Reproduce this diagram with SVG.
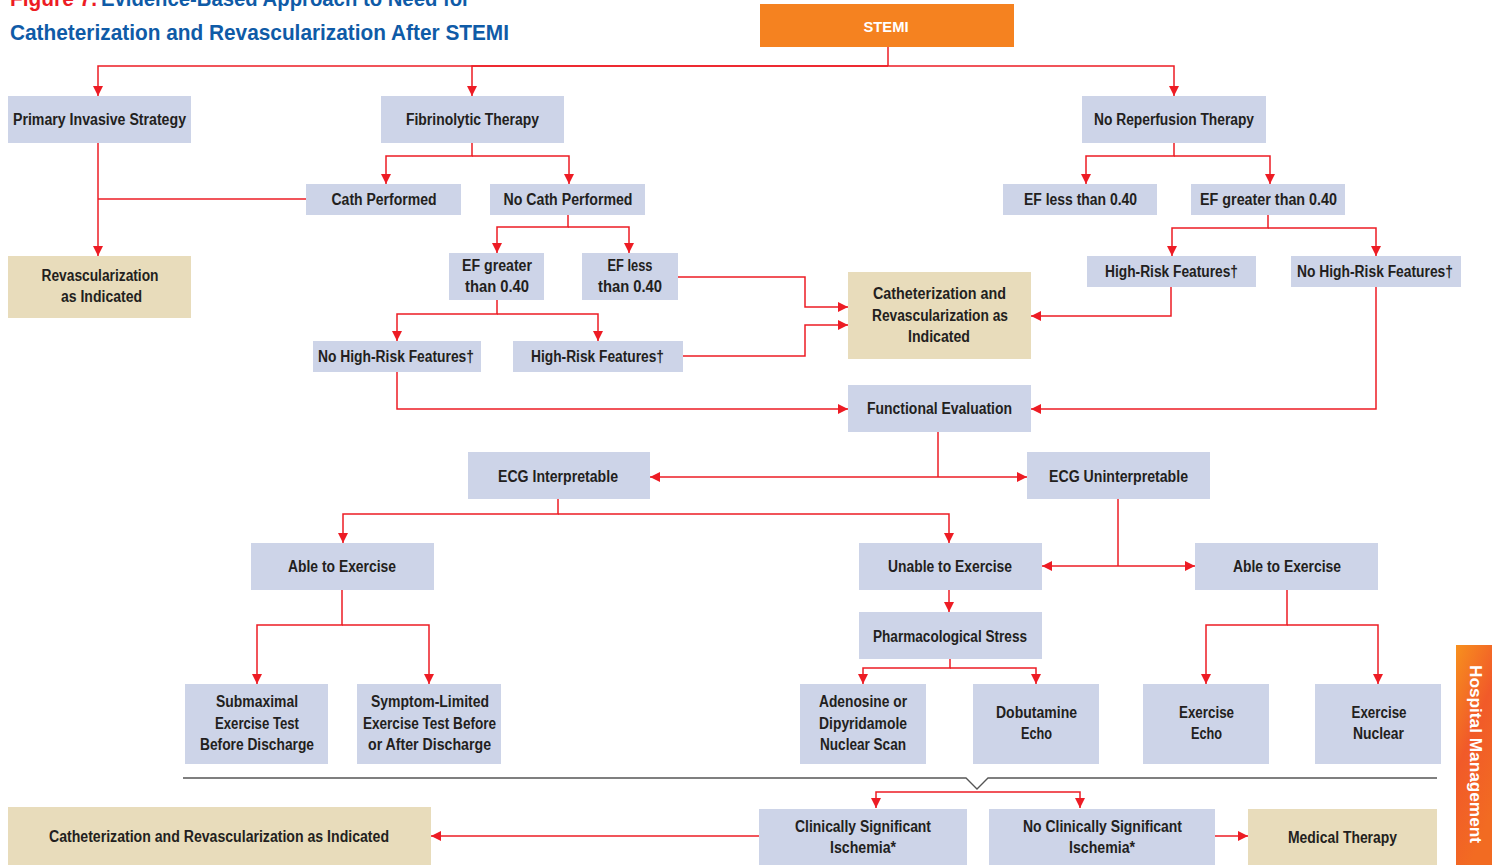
<svg xmlns="http://www.w3.org/2000/svg" width="1492" height="865" viewBox="0 0 1492 865">
  <defs>
    <marker id="arrow" viewBox="0 0 10 10" markerUnits="userSpaceOnUse" markerWidth="10" markerHeight="11" refX="10" refY="5" orient="auto-start-reverse">
      <path d="M0,0 L10,5 L0,10 z" fill="#ed1c24"/>
    </marker>
    <linearGradient id="tabGrad" x1="0" y1="0" x2="0.4" y2="1">
      <stop offset="0" stop-color="#f7901e"/>
      <stop offset="0.5" stop-color="#f15a29"/>
      <stop offset="1" stop-color="#f26b22"/>
    </linearGradient>
    <style>
      .box { fill: #cdd4e8; }
      .tan { fill: #e8dcbb; }
      .lbl { font-family: "Liberation Sans", Arial, sans-serif; font-weight: bold; font-size: 16px; fill: #231f20; text-anchor: middle; }
      .title { font-family: "Liberation Sans", Arial, sans-serif; font-weight: bold; font-size: 21.5px; fill: #0f5ba7; }
      .conn path { fill: none; stroke: #ed1c24; stroke-width: 1.5; }
      .conn path.arr { marker-end: url(#arrow); }
    </style>
  </defs>

  <rect width="1492" height="865" fill="#ffffff"/>

  <!-- heading (first line runs off the top edge of the page) -->
  <g id="heading">
    <text class="title" x="10" y="6" style="fill:#ed1c24" textLength="87" lengthAdjust="spacingAndGlyphs">Figure 7.</text>
    <text class="title" x="101" y="6" textLength="369" lengthAdjust="spacingAndGlyphs">Evidence-Based Approach to Need for</text>
    <text class="title" x="10" y="40" textLength="499" lengthAdjust="spacingAndGlyphs">Catheterization and Revascularization After STEMI</text>
  </g>

  <!-- connectors -->
  <g id="connectors" class="conn">
    <path d="M888 47 V66"/>
    <path class="arr" d="M888 66 H98 V96"/>
    <path class="arr" d="M888 66 H472 V96"/>
    <path class="arr" d="M888 66 H1174 V96"/>

    <path class="arr" d="M472 143 V156 H386 V184"/>
    <path class="arr" d="M472 156 H569 V184"/>

    <path class="arr" d="M98 143 V256"/>
    <path d="M98 199 H306"/>

    <path class="arr" d="M568 215 V227 H497 V253"/>
    <path class="arr" d="M568 227 H629 V253"/>

    <path class="arr" d="M497 300 V314 H397 V341"/>
    <path class="arr" d="M497 314 H598 V341"/>

    <path class="arr" d="M678 277 H805 V307 H848"/>
    <path class="arr" d="M683 356 H805 V325 H848"/>
    <path class="arr" d="M397 372 V409 H848"/>

    <path class="arr" d="M1174 143 V156 H1086 V184"/>
    <path class="arr" d="M1174 156 H1270 V184"/>

    <path class="arr" d="M1268 215 V228 H1172 V256"/>
    <path class="arr" d="M1268 228 H1376 V256"/>

    <path class="arr" d="M1171 287 V316 H1031"/>
    <path class="arr" d="M1376 287 V409 H1031"/>

    <path d="M938 432 V477"/>
    <path class="arr" d="M938 477 H650"/>
    <path class="arr" d="M938 477 H1027"/>

    <path class="arr" d="M558 499 V514 H343 V543"/>
    <path class="arr" d="M558 514 H949 V543"/>

    <path d="M1118 499 V566"/>
    <path class="arr" d="M1118 566 H1042"/>
    <path class="arr" d="M1118 566 H1195"/>

    <path class="arr" d="M949 590 V612"/>

    <path class="arr" d="M342 590 V625 H257 V684"/>
    <path class="arr" d="M342 625 H429 V684"/>

    <path class="arr" d="M950 659 V668 H863 V684"/>
    <path class="arr" d="M950 668 H1036 V684"/>

    <path class="arr" d="M1287 590 V625 H1206 V684"/>
    <path class="arr" d="M1287 625 H1378 V684"/>

    <path class="arr" d="M977 792 H876 V808"/>
    <path class="arr" d="M977 792 H1080 V808"/>

    <path class="arr" d="M759 836 H431"/>
    <path class="arr" d="M1215 836 H1248"/>
  </g>

  <!-- divider between hospital tests and outcomes -->
  <path id="divider" d="M183 778 H966 L977 789 L988 778 H1437" fill="none" stroke="#555555" stroke-width="1.3"/>

  <!-- nodes -->
  <g id="stemi">
    <rect x="760" y="4" width="254" height="43" fill="#f58220"/>
    <text class="lbl" x="886" y="32" style="fill:#ffffff;font-size:14.5px" textLength="45" lengthAdjust="spacingAndGlyphs">STEMI</text>
  </g>

  <g id="primary-invasive">
    <rect class="box" x="8" y="96" width="183" height="47"/>
    <text class="lbl" x="99.5" y="125" textLength="173" lengthAdjust="spacingAndGlyphs">Primary Invasive Strategy</text>
  </g>
  <g id="fibrinolytic">
    <rect class="box" x="381" y="96" width="183" height="47"/>
    <text class="lbl" x="472.5" y="125" textLength="133" lengthAdjust="spacingAndGlyphs">Fibrinolytic Therapy</text>
  </g>
  <g id="no-reperfusion">
    <rect class="box" x="1082" y="96" width="184" height="47"/>
    <text class="lbl" x="1174" y="125" textLength="160" lengthAdjust="spacingAndGlyphs">No Reperfusion Therapy</text>
  </g>

  <g id="cath-performed">
    <rect class="box" x="306" y="184" width="155" height="31"/>
    <text class="lbl" x="384" y="205" textLength="105" lengthAdjust="spacingAndGlyphs">Cath Performed</text>
  </g>
  <g id="no-cath-performed">
    <rect class="box" x="490" y="184" width="155" height="31"/>
    <text class="lbl" x="568" y="205" textLength="129" lengthAdjust="spacingAndGlyphs">No Cath Performed</text>
  </g>
  <g id="ef-less-right">
    <rect class="box" x="1003" y="184" width="154" height="31"/>
    <text class="lbl" x="1080.5" y="205" textLength="113" lengthAdjust="spacingAndGlyphs">EF less than 0.40</text>
  </g>
  <g id="ef-greater-right">
    <rect class="box" x="1191" y="184" width="154" height="31"/>
    <text class="lbl" x="1268.5" y="205" textLength="137" lengthAdjust="spacingAndGlyphs">EF greater than 0.40</text>
  </g>

  <g id="revasc-indicated">
    <rect class="tan" x="8" y="256" width="183" height="62"/>
    <text class="lbl" x="100" y="281" textLength="117" lengthAdjust="spacingAndGlyphs">Revascularization</text>
    <text class="lbl" x="101.5" y="302" textLength="81" lengthAdjust="spacingAndGlyphs">as Indicated</text>
  </g>

  <g id="ef-greater-left">
    <rect class="box" x="449" y="253" width="95" height="47"/>
    <text class="lbl" x="497" y="271" textLength="70" lengthAdjust="spacingAndGlyphs">EF greater</text>
    <text class="lbl" x="497" y="292" textLength="64" lengthAdjust="spacingAndGlyphs">than 0.40</text>
  </g>
  <g id="ef-less-left">
    <rect class="box" x="582" y="253" width="96" height="47"/>
    <text class="lbl" x="630" y="271" textLength="45" lengthAdjust="spacingAndGlyphs">EF less</text>
    <text class="lbl" x="630" y="292" textLength="64" lengthAdjust="spacingAndGlyphs">than 0.40</text>
  </g>

  <g id="high-risk-right">
    <rect class="box" x="1087" y="256" width="169" height="31"/>
    <text class="lbl" x="1171.5" y="277" textLength="133" lengthAdjust="spacingAndGlyphs">High-Risk Features†</text>
  </g>
  <g id="no-high-risk-right">
    <rect class="box" x="1291" y="256" width="170" height="31"/>
    <text class="lbl" x="1375" y="277" textLength="156" lengthAdjust="spacingAndGlyphs">No High-Risk Features†</text>
  </g>

  <g id="cath-revasc-indicated">
    <rect class="tan" x="848" y="272" width="183" height="87"/>
    <text class="lbl" x="939.5" y="299" textLength="133" lengthAdjust="spacingAndGlyphs">Catheterization and</text>
    <text class="lbl" x="940" y="321" textLength="136" lengthAdjust="spacingAndGlyphs">Revascularization as</text>
    <text class="lbl" x="939" y="342" textLength="62" lengthAdjust="spacingAndGlyphs">Indicated</text>
  </g>

  <g id="no-high-risk-left">
    <rect class="box" x="313" y="341" width="168" height="31"/>
    <text class="lbl" x="396" y="362" textLength="156" lengthAdjust="spacingAndGlyphs">No High-Risk Features†</text>
  </g>
  <g id="high-risk-left">
    <rect class="box" x="513" y="341" width="170" height="31"/>
    <text class="lbl" x="597.5" y="362" textLength="133" lengthAdjust="spacingAndGlyphs">High-Risk Features†</text>
  </g>

  <g id="functional-evaluation">
    <rect class="box" x="848" y="385" width="183" height="47"/>
    <text class="lbl" x="939.5" y="414" textLength="145" lengthAdjust="spacingAndGlyphs">Functional Evaluation</text>
  </g>

  <g id="ecg-interpretable">
    <rect class="box" x="468" y="452" width="182" height="47"/>
    <text class="lbl" x="558" y="482" textLength="120" lengthAdjust="spacingAndGlyphs">ECG Interpretable</text>
  </g>
  <g id="ecg-uninterpretable">
    <rect class="box" x="1027" y="452" width="183" height="47"/>
    <text class="lbl" x="1118.5" y="482" textLength="139" lengthAdjust="spacingAndGlyphs">ECG Uninterpretable</text>
  </g>

  <g id="able-left">
    <rect class="box" x="251" y="543" width="183" height="47"/>
    <text class="lbl" x="342" y="572" textLength="108" lengthAdjust="spacingAndGlyphs">Able to Exercise</text>
  </g>
  <g id="unable">
    <rect class="box" x="859" y="543" width="183" height="47"/>
    <text class="lbl" x="950" y="572" textLength="124" lengthAdjust="spacingAndGlyphs">Unable to Exercise</text>
  </g>
  <g id="able-right">
    <rect class="box" x="1195" y="543" width="183" height="47"/>
    <text class="lbl" x="1287" y="572" textLength="108" lengthAdjust="spacingAndGlyphs">Able to Exercise</text>
  </g>

  <g id="pharmacological-stress">
    <rect class="box" x="859" y="612" width="183" height="47"/>
    <text class="lbl" x="950" y="642" textLength="154" lengthAdjust="spacingAndGlyphs">Pharmacological Stress</text>
  </g>

  <g id="submaximal">
    <rect class="box" x="185" y="684" width="143" height="80"/>
    <text class="lbl" x="257" y="707" textLength="82" lengthAdjust="spacingAndGlyphs">Submaximal</text>
    <text class="lbl" x="257" y="729" textLength="84" lengthAdjust="spacingAndGlyphs">Exercise Test</text>
    <text class="lbl" x="257" y="750" textLength="114" lengthAdjust="spacingAndGlyphs">Before Discharge</text>
  </g>
  <g id="symptom-limited">
    <rect class="box" x="357" y="684" width="144" height="80"/>
    <text class="lbl" x="430" y="707" textLength="118" lengthAdjust="spacingAndGlyphs">Symptom-Limited</text>
    <text class="lbl" x="429.5" y="729" textLength="133" lengthAdjust="spacingAndGlyphs">Exercise Test Before</text>
    <text class="lbl" x="429.5" y="750" textLength="123" lengthAdjust="spacingAndGlyphs">or After Discharge</text>
  </g>
  <g id="adenosine">
    <rect class="box" x="800" y="684" width="126" height="80"/>
    <text class="lbl" x="863" y="707" textLength="88" lengthAdjust="spacingAndGlyphs">Adenosine or</text>
    <text class="lbl" x="863" y="729" textLength="88" lengthAdjust="spacingAndGlyphs">Dipyridamole</text>
    <text class="lbl" x="863" y="750" textLength="86" lengthAdjust="spacingAndGlyphs">Nuclear Scan</text>
  </g>
  <g id="dobutamine">
    <rect class="box" x="973" y="684" width="126" height="80"/>
    <text class="lbl" x="1036.5" y="718" textLength="81" lengthAdjust="spacingAndGlyphs">Dobutamine</text>
    <text class="lbl" x="1036.5" y="739" textLength="31" lengthAdjust="spacingAndGlyphs">Echo</text>
  </g>
  <g id="exercise-echo">
    <rect class="box" x="1143" y="684" width="126" height="80"/>
    <text class="lbl" x="1206.5" y="718" textLength="55" lengthAdjust="spacingAndGlyphs">Exercise</text>
    <text class="lbl" x="1206.5" y="739" textLength="31" lengthAdjust="spacingAndGlyphs">Echo</text>
  </g>
  <g id="exercise-nuclear">
    <rect class="box" x="1315" y="684" width="126" height="80"/>
    <text class="lbl" x="1379" y="718" textLength="55" lengthAdjust="spacingAndGlyphs">Exercise</text>
    <text class="lbl" x="1378.5" y="739" textLength="51" lengthAdjust="spacingAndGlyphs">Nuclear</text>
  </g>

  <g id="cath-revasc-bottom">
    <rect class="tan" x="8" y="807" width="423" height="58"/>
    <text class="lbl" x="219" y="842" textLength="340" lengthAdjust="spacingAndGlyphs">Catheterization and Revascularization as Indicated</text>
  </g>
  <g id="clinically-significant">
    <rect class="box" x="759" y="809" width="208" height="56"/>
    <text class="lbl" x="863" y="832" textLength="136" lengthAdjust="spacingAndGlyphs">Clinically Significant</text>
    <text class="lbl" x="863" y="853" textLength="66" lengthAdjust="spacingAndGlyphs">Ischemia*</text>
  </g>
  <g id="no-clinically-significant">
    <rect class="box" x="989" y="809" width="226" height="56"/>
    <text class="lbl" x="1102.5" y="832" textLength="159" lengthAdjust="spacingAndGlyphs">No Clinically Significant</text>
    <text class="lbl" x="1102" y="853" textLength="66" lengthAdjust="spacingAndGlyphs">Ischemia*</text>
  </g>
  <g id="medical-therapy">
    <rect class="tan" x="1248" y="809" width="189" height="56"/>
    <text class="lbl" x="1342.5" y="843" textLength="109" lengthAdjust="spacingAndGlyphs">Medical Therapy</text>
  </g>

  <!-- section tab -->
  <g id="hospital-tab">
    <rect x="1456" y="645" width="36" height="220" fill="url(#tabGrad)"/>
    <text transform="translate(1470 754) rotate(90)" x="0" y="0" font-family="'Liberation Sans', Arial, sans-serif" font-weight="bold" font-size="16" fill="#ffffff" text-anchor="middle" textLength="178" lengthAdjust="spacingAndGlyphs">Hospital Management</text>
  </g>
</svg>
